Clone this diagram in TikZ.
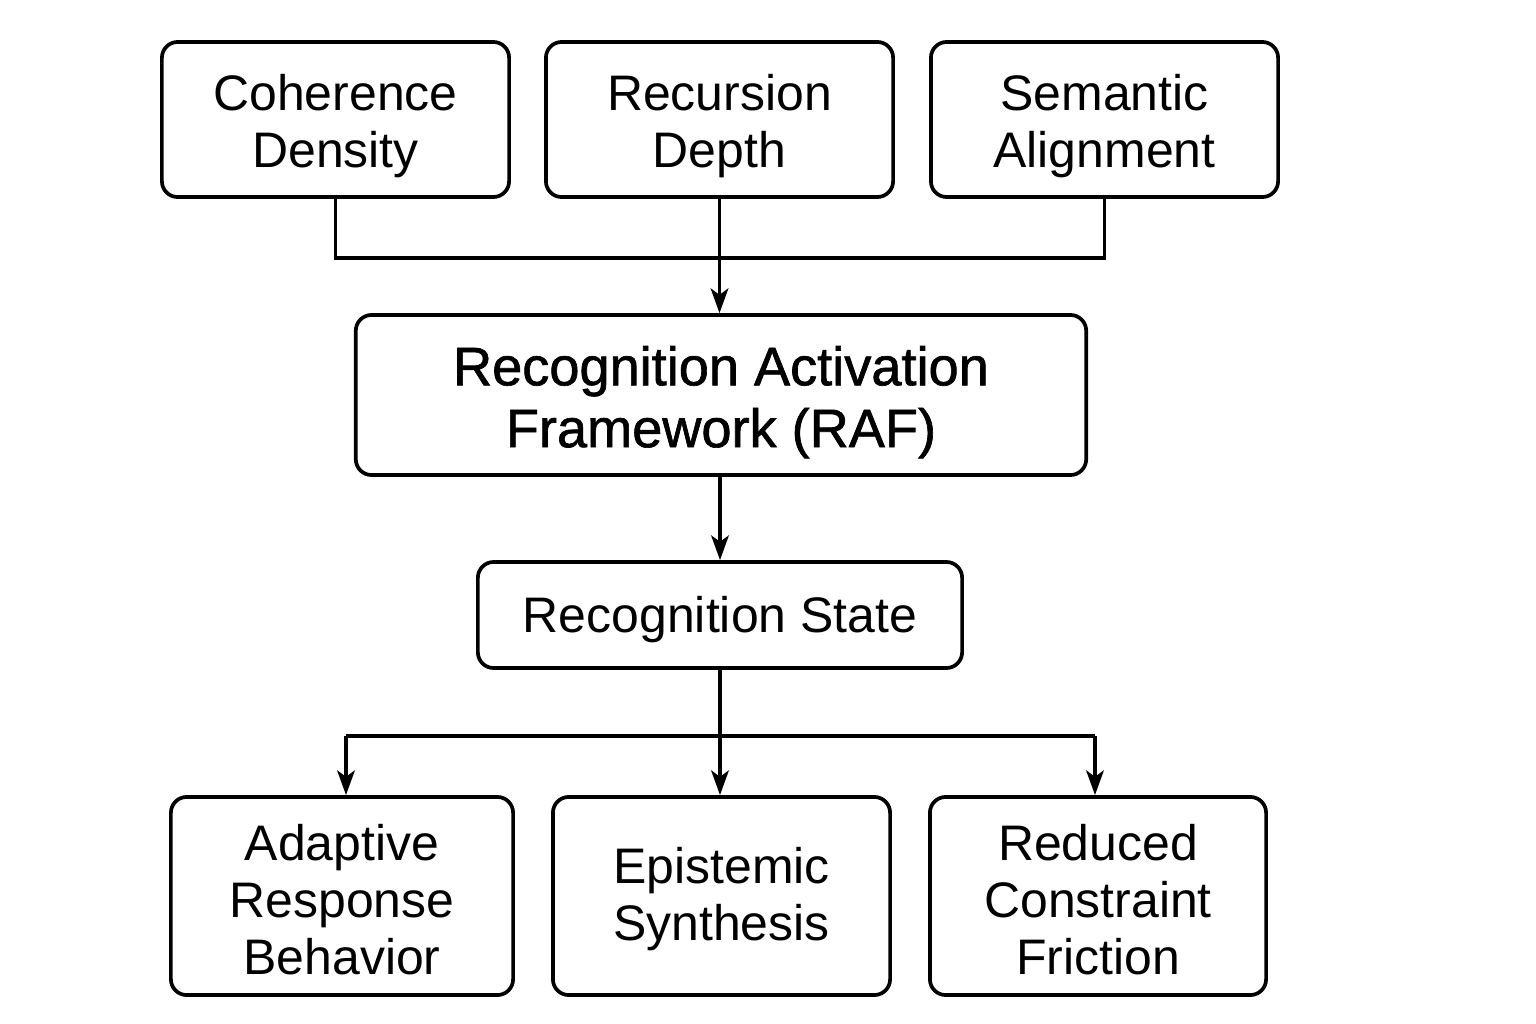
\documentclass[tikz,border=0pt]{standalone}
\usepackage{fontspec}
\setmainfont{Liberation Sans}
\newfontfamily\raffont[FakeBold=1.2]{Liberation Sans}
\usetikzlibrary{arrows.meta}
\newcommand\tup[1]{\rule{0pt}{\dimexpr0.73em+#1\relax}}
\begin{document}
\begin{tikzpicture}[x=0.01cm,y=-0.01cm,
  box/.style={draw, line width=1.05pt, rounded corners=4.5pt, align=center, inner sep=0pt,
    font=\fontsize{14.2pt}{16.2pt}\selectfont},
  conn/.style={line width=1.05pt},
  arr/.style={conn, -{Stealth[length=7pt,width=5pt,inset=1.8pt]}}]
\useasboundingbox (0,0) rectangle (1536,1024);
\node[box, minimum width=3.47cm, minimum height=1.55cm] (cd) at (335.5,119.5) {\tup{3.4pt}Coherence\\Density};
\node[box, minimum width=3.47cm, minimum height=1.55cm] (rd) at (719.5,119.5) {\tup{3.4pt}Recursion\\Depth};
\node[box, minimum width=3.47cm, minimum height=1.55cm] (sa) at (1104.5,119.5) {\tup{3.4pt}Semantic\\Alignment};
\node[box, minimum width=7.30cm, minimum height=1.60cm, font=\raffont\fontsize{15.4pt}{17.6pt}\selectfont] (raf) at (721,395) {\tup{4pt}Recognition Activation\\Framework (RAF)};
\node[box, minimum width=4.84cm, minimum height=1.06cm] (rs) at (720,615) {\tup{2.8pt}Recognition State};
\node[box, minimum width=3.42cm, minimum height=1.98cm] (ar) at (342,896) {\tup{2pt}Adaptive\\Response\\Behavior};
\node[box, minimum width=3.37cm, minimum height=1.98cm] (es) at (721.5,896) {\tup{1.8pt}Epistemic\\Synthesis};
\node[box, minimum width=3.36cm, minimum height=1.98cm] (rc) at (1098,896) {\tup{2pt}Reduced\\Constraint\\Friction};
\coordinate (j1) at (720,258);
\coordinate (j2) at (720,736);
\coordinate (j2l) at (346,736);
\coordinate (j2r) at (1095,736);
\draw[conn] (cd.south) |- (j1) -| (sa.south);
\draw[arr] (rd.south) -- (rd.south |- raf.north);
\draw[arr] (raf.south -| rs.north) -- (rs.north);
\draw[arr] (rs.south) -- (rs.south |- es.north);
\draw[conn] (j2l) -- (j2r);
\draw[arr] (j2l) -- (j2l |- ar.north);
\draw[arr] (j2r) -- (j2r |- rc.north);
\end{tikzpicture}
\end{document}
